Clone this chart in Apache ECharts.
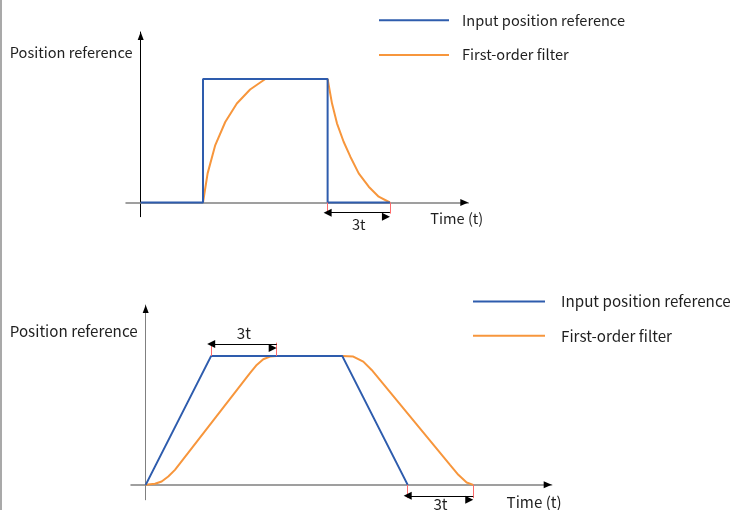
<!DOCTYPE html>
<html><head><meta charset="utf-8">
<script src="https://cdn.jsdelivr.net/npm/echarts@6/dist/echarts.min.js"></script>
<style>html,body{margin:0;padding:0;background:#fff}#c{width:731px;height:510px}</style>
</head><body><div id="c"></div>
<script>
// ---------- text ----------
const seriesNames = ['Input position reference', 'First-order filter'];
const yAxisName = 'Position reference';
const xAxisName = 'Time (t)';
const spanLabel = '3t';

// ---------- top panel: step input ----------
const stepInputX = [0, 1, 1, 3, 3, 4];
const stepInputY = [0, 0, 1, 1, 0, 0];
const stepFilterX = [1, 1.074, 1.197, 1.357, 1.543, 1.756, 2, 3, 3.07, 3.15, 3.257, 3.365, 3.499, 3.66, 3.82, 4];
const stepFilterY = [0, 0.236, 0.465, 0.652, 0.802, 0.915, 1, 1, 0.803, 0.641, 0.492, 0.371, 0.236, 0.128, 0.047, 0];
const stepSpanStart = [3];
const stepSpanEnd = [4];
const stepSpanBase = [0];
const stepSpanTickTo = [-0.09];
const stepSpanArrowY = [-0.083];
const stepSpanLabelSide = ['below'];

// ---------- bottom panel: ramp input ----------
const rampInputX = [0, 1, 3, 4];
const rampInputY = [0, 1, 1, 0];
const rampFilterX = [0, 0.142, 0.244, 0.345, 0.447, 1.592, 1.695, 1.795, 1.898, 2, 3, 3.169, 3.322, 3.45, 4.646, 4.773, 4.9, 5];
const rampFilterY = [0, 0.008, 0.026, 0.065, 0.116, 0.866, 0.93, 0.974, 0.995, 1, 1, 0.995, 0.956, 0.891, 0.155, 0.078, 0.018, 0];
const rampSpanStart = [1, 4];
const rampSpanEnd = [2, 5];
const rampSpanBase = [1, 0];
const rampSpanTickTo = [1.103, -0.103];
const rampSpanArrowY = [1.093, -0.085];
const rampSpanLabelSide = ['above', 'below'];

// ---------- axis ranges ----------
const stepXRange = [-0.236, 5.258];
const stepYRange = [-0.115, 1.381];
const rampXRange = [-0.224, 6.198];
const rampYRange = [-0.116, 1.395];

// ---------- style ----------
const FONT = 'Noto Sans CJK SC';
const TXT = '#1f1f1f';
const BLUE = '#2E5CAD';
const ORANGE = '#F7963C';
const GRAY = '#808080';
const RED = '#FF6A6A';
const FS_TOP = 14.6;
const FS_BOT = 15.2;

const pairs = (xs, ys) => xs.map((x, i) => [x, ys[i]]);

function arrowMarks(starts, ends, ys, sides, fs, dist) {
  return {
    silent: true, animation: false,
    symbol: ['triangle', 'triangle'], symbolSize: [8, 8], symbolOffset: [0, 4],
    lineStyle: { color: '#000', width: 1, type: 'solid' },
    data: starts.map((s, i) => [
      { coord: [s, ys[i]],
        label: { show: true, formatter: spanLabel, position: sides[i] === 'above' ? 'insideMiddleTop' : 'insideMiddleBottom',
                 distance: dist[i], color: TXT, fontFamily: FONT, fontSize: fs } },
      { coord: [ends[i], ys[i]] }
    ])
  };
}
function tickMarks(starts, ends, bases, tos) {
  const data = [];
  starts.forEach((s, i) => {
    data.push([{ coord: [s, bases[i]] }, { coord: [s, tos[i]] }]);
    data.push([{ coord: [ends[i], bases[i]] }, { coord: [ends[i], tos[i]] }]);
  });
  return {
    silent: true, animation: false, symbol: ['none', 'none'],
    label: { show: false },
    lineStyle: { color: RED, width: 1, type: 'solid' },
    data
  };
}

const hid = { splitLine: { show: false }, axisTick: { show: false }, axisLabel: { show: false } };
const arrowOverlay = (w, h) => ({
  onZero: true, symbol: ['none', 'triangle'], symbolSize: [w, h], symbolOffset: [0, -h / 2],
  lineStyle: { color: '#000', width: 0 }
});
const LINE_ICON = 'path://M0,0H70V2H0Z';

const option = {
  animation: false,
  backgroundColor: '#fff',
  textStyle: { fontFamily: FONT },
  graphic: [{ type: 'line', shape: { x1: 1, y1: 0, x2: 1, y2: 510 }, style: { stroke: '#8c8c8c', lineWidth: 1.5 } }],
  grid: [
    { left: 126, top: 32, width: 342.3, height: 184.7 },
    { left: 131, top: 305, width: 420.7, height: 195 }
  ],
  legend: [
    { orient: 'vertical', left: 374, top: 8, itemWidth: 70, itemHeight: 14, itemGap: 20, selectedMode: false,
      icon: LINE_ICON,
      data: seriesNames, textStyle: { fontFamily: FONT, fontSize: FS_TOP, color: TXT, padding: [0, 0, 0, 8] } },
    { orient: 'vertical', left: 468, top: 289, itemWidth: 72, itemHeight: 14, itemGap: 19, selectedMode: false,
      icon: LINE_ICON,
      data: seriesNames, textStyle: { fontFamily: FONT, fontSize: FS_BOT, color: TXT, padding: [0, 0, 0, 11] } }
  ],
  xAxis: [
    Object.assign({ gridIndex: 0, type: 'value', min: stepXRange[0], max: stepXRange[1],
      axisLine: { onZero: true, onZeroAxisIndex: 0, lineStyle: { color: GRAY, width: 1.5 } },
      name: xAxisName, nameLocation: 'end', nameGap: 15,
      nameTextStyle: { fontFamily: FONT, fontSize: FS_TOP, color: TXT, align: 'right', verticalAlign: 'top', padding: [9, 0, 0, 0] } }, hid),
    Object.assign({ gridIndex: 0, type: 'value', min: stepXRange[0], max: stepXRange[1],
      axisLine: Object.assign(arrowOverlay(7, 8), { onZeroAxisIndex: 0 }) }, hid),
    Object.assign({ gridIndex: 1, type: 'value', min: rampXRange[0], max: rampXRange[1],
      axisLine: { onZero: true, onZeroAxisIndex: 1, lineStyle: { color: GRAY, width: 1.5 } },
      name: xAxisName, nameLocation: 'end', nameGap: 10,
      nameTextStyle: { fontFamily: FONT, fontSize: FS_BOT, color: TXT, align: 'right', verticalAlign: 'top', padding: [10, 0, 0, 0] } }, hid),
    Object.assign({ gridIndex: 1, type: 'value', min: rampXRange[0], max: rampXRange[1],
      axisLine: Object.assign(arrowOverlay(7, 8), { onZeroAxisIndex: 1 }) }, hid)
  ],
  yAxis: [
    Object.assign({ gridIndex: 0, type: 'value', min: stepYRange[0], max: stepYRange[1],
      axisLine: { onZero: true, onZeroAxisIndex: 0, symbol: ['none', 'triangle'], symbolSize: [6, 8], symbolOffset: [0, -4],
                  lineStyle: { color: '#000', width: 1 } },
      name: yAxisName, nameLocation: 'end', nameGap: -20,
      nameTextStyle: { fontFamily: FONT, fontSize: FS_TOP, color: TXT, align: 'right', verticalAlign: 'middle', padding: [0, 8, 0, 0] } }, hid),
    Object.assign({ gridIndex: 1, type: 'value', min: rampYRange[0], max: rampYRange[1],
      axisLine: { onZero: true, onZeroAxisIndex: 2, lineStyle: { color: GRAY, width: 1 } },
      name: yAxisName, nameLocation: 'end', nameGap: -26.5,
      nameTextStyle: { fontFamily: FONT, fontSize: FS_BOT, color: TXT, align: 'right', verticalAlign: 'middle', padding: [0, 8, 0, 0] } }, hid),
    Object.assign({ gridIndex: 1, type: 'value', min: rampYRange[0], max: rampYRange[1],
      axisLine: Object.assign(arrowOverlay(6, 8), { onZeroAxisIndex: 2 }) }, hid)
  ],
  series: [
    { type: 'line', name: seriesNames[1], xAxisIndex: 0, yAxisIndex: 0, data: pairs(stepFilterX, stepFilterY),
      symbol: 'none', z: 2, lineStyle: { color: ORANGE, width: 2 }, itemStyle: { color: ORANGE },
      markLine: tickMarks(stepSpanStart, stepSpanEnd, stepSpanBase, stepSpanTickTo) },
    { type: 'line', name: seriesNames[0], xAxisIndex: 0, yAxisIndex: 0, data: pairs(stepInputX, stepInputY),
      symbol: 'none', z: 3, lineStyle: { color: BLUE, width: 2 }, itemStyle: { color: BLUE },
      markLine: arrowMarks(stepSpanStart, stepSpanEnd, stepSpanArrowY, stepSpanLabelSide, FS_TOP, [4]) },
    { type: 'line', name: seriesNames[1], xAxisIndex: 2, yAxisIndex: 1, data: pairs(rampFilterX, rampFilterY),
      symbol: 'none', z: 2, lineStyle: { color: ORANGE, width: 2 }, itemStyle: { color: ORANGE },
      markLine: tickMarks(rampSpanStart, rampSpanEnd, rampSpanBase, rampSpanTickTo) },
    { type: 'line', name: seriesNames[0], xAxisIndex: 2, yAxisIndex: 1, data: pairs(rampInputX, rampInputY),
      symbol: 'none', z: 3, lineStyle: { color: BLUE, width: 2 }, itemStyle: { color: BLUE },
      markLine: arrowMarks(rampSpanStart, rampSpanEnd, rampSpanArrowY, rampSpanLabelSide, FS_BOT, [3, 1]) }
  ]
};
echarts.init(document.getElementById('c'), null, { renderer: 'canvas' }).setOption(option);
</script></body></html>
